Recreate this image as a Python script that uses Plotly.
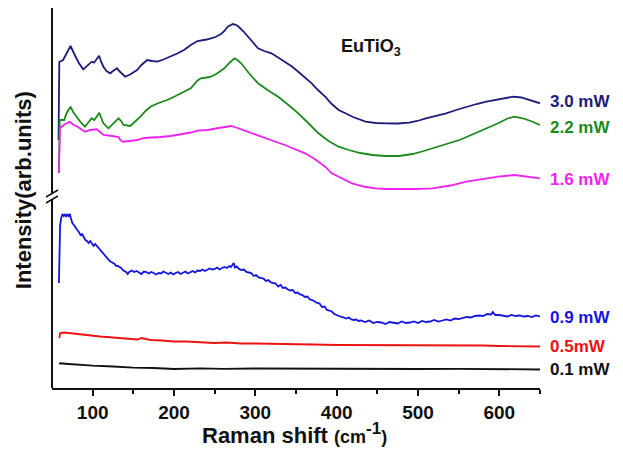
import plotly.graph_objects as go

# ---- data (Raman shift in cm^-1, intensity in arb. units) ----
x_30 = [58, 59, 63.6, 68, 72.8, 78, 83, 88.4, 93, 98.8, 101.7, 104, 107.9, 110.5, 113.2, 117, 121.5, 125,
        129.8, 134, 140, 146, 154.6, 160, 167, 173, 179.4, 187, 195.8, 204, 212.3, 220.6, 229, 233, 240,
        245.4, 251, 257.8, 262, 266, 269, 272.3, 275, 278.5, 285, 290.9, 297, 303.3, 311, 319.8, 328,
        336.3, 345, 352.8, 361, 369.3, 377, 385.8, 394, 402.4, 410.8, 420, 435.5, 448, 460.3, 475, 489.2,
        499, 509.8, 522, 534.6, 547, 559.3, 572, 584.1, 598.6, 608, 617, 627, 638, 650]
i_30 = [248, 326, 328, 335, 342, 333, 325, 318.7, 322, 326.3, 325.3, 328, 332.3, 326, 321.3, 317, 314.7, 317,
        319.7, 316, 311.3, 313.5, 318, 323, 328, 327, 326.3, 328.5, 331.3, 334.5, 338, 343, 347, 347.3, 348.5,
        349.7, 351, 354, 357, 361.3, 363, 364, 363.5, 362, 357, 351.3, 346, 339.7, 337, 334.7, 330.5,
        326.3, 321.5, 316.3, 311, 304.7, 298, 291.3, 284, 278, 274.7, 271, 266.3, 265, 264.7, 264.5, 265.3,
        267, 269.7, 272, 274.7, 278, 281.3, 284, 286.3, 288.5, 290.5, 291.3, 290.5, 288, 284.7]

x_22 = [58.5, 59.5, 65, 68, 72.8, 76, 80.2, 85, 90.5, 95, 98.8, 102, 105, 108.2, 110.5, 113.2, 119.4, 125,
        131.8, 135, 138, 146.3, 152, 158.7, 165, 171, 181, 191.7, 202, 212.3, 220.6, 229, 233, 240, 245.4,
        252, 261.9, 268, 274.4, 278, 282.6, 292, 303.3, 315, 328.1, 340, 352.8, 365, 377.6, 390, 402.4,
        414.8, 429, 443.7, 460, 476.7, 493.2, 505, 518, 535, 551, 564, 575.8, 588, 598.6, 610, 619, 630, 640, 650]
i_22 = [215, 268, 268, 275, 281.3, 276, 271.3, 266, 261.3, 266, 269.7, 268, 272, 275.3, 270, 264.7, 259.7, 264,
        269.7, 267, 263, 262, 266, 271.3, 277, 281.3, 285, 288, 292, 296.3, 299.7, 307.5, 309.7, 310.5, 311.3,
        314, 319.7, 325, 329.7, 328, 324.7, 315, 304.7, 298, 291.3, 283.5, 274.7, 265, 254.7, 247, 241.3,
        238, 235, 233, 232, 232, 234, 236.5, 239.7, 244, 248, 252.5, 256.3, 261, 264.7, 269.5, 271.3, 269.5, 266.5, 263]

x_16 = [58.5, 59.8, 61.7, 66, 71.9, 76.7, 82, 90.5, 97, 105, 109, 113.2, 120, 129.8, 132, 133.9, 137, 145,
        154.6, 163, 171, 183, 195.8, 204, 212.3, 220.6, 229, 241.3, 255, 264, 270.2, 278, 286.8, 299, 311.5,
        324, 336.3, 349, 361.1, 373, 385.8, 394, 406.5, 418.8, 433, 447.7, 462, 476.7, 497, 518, 540, 559.3,
        580, 598.6, 619, 635, 650]
i_16 = [215, 260, 261.3, 264, 266.3, 263, 261, 256.3, 258, 258.7, 256, 253, 252.5, 251.3, 251, 248, 246.3, 247,
        248, 250, 250.7, 251, 252, 253, 254, 255.5, 257.3, 258, 260, 261.5, 262, 260, 257.3, 253.5, 249.7,
        246.5, 243, 239, 234.7, 229, 221.3, 214.7, 209.7, 204.7, 201.5, 199.7, 199, 198.7, 199, 199.7, 202.5, 206.3,
        209, 211.3, 213, 211.5, 209.7]

x_09 = [58.5, 60, 61.5, 63, 64.5, 66, 67.5, 69, 70.5, 72, 73.5, 75, 77, 79, 81, 83, 85, 87, 89, 91, 93, 95,
        97, 99, 101, 103, 105, 107, 109, 111, 113, 115, 117, 119, 121, 123, 125, 127, 129, 131, 133, 135, 137,
        139, 141, 143, 145, 148, 151, 154, 157, 160, 163, 166, 169, 172, 175, 178, 181, 184, 187, 190, 193,
        196, 199, 202, 205, 208, 211, 214, 217, 220, 223, 226, 229, 232, 235, 238, 241, 244, 247, 250, 253,
        256, 259, 262, 265, 268, 270, 272, 273.5, 275, 277, 280, 283, 286, 289, 292, 295, 298, 301, 304, 307,
        310, 313, 316, 319, 322, 325, 328, 331, 334, 337, 340, 343, 346, 349, 352, 355, 358, 361, 364, 367,
        370, 373, 376, 379, 382, 385, 388, 391, 394, 397, 400, 403, 406, 409, 412, 415, 418, 421, 424, 427,
        430, 435, 440, 445, 450, 455, 460, 465, 470, 475, 480, 485, 490, 495, 500, 505, 510, 515, 520, 525,
        530, 535, 540, 545, 550, 555, 560, 565, 570, 575, 580, 585, 590, 592, 595, 600, 605, 610, 615, 620,
        625, 630, 635, 640, 645, 650]
i_09 = [105, 163, 171, 174, 172, 174, 171, 174, 172, 174, 169, 165, 163, 160, 158, 156, 153, 154, 151, 148, 147, 145,
        147, 144, 142, 144, 142, 140, 138, 137, 134, 133, 131, 128, 127, 126, 125, 124, 122, 122, 121, 120, 118,
        117, 116, 114, 116, 117.5, 116, 117, 115.5, 114, 116.5, 116, 114.5, 116, 115, 113.5, 115, 114.5, 116.5, 115, 114,
        115.5, 113.5, 115, 116, 114, 115, 116.5, 114.5, 116, 117, 115.5, 117.5, 117, 118.5, 117, 118, 119.5, 118.5, 119, 120.5,
        118.5, 120, 121, 120, 122, 121, 123, 125, 120.5, 121.5, 119, 118, 118.5, 116, 115.5, 115, 112, 113, 110.5, 110,
        109.5, 107, 108, 105.5, 105, 104.5, 101.5, 103, 100, 100.5, 98.5, 97.5, 98, 95, 95.5, 93.5, 93, 91, 91.5, 88.5,
        88, 86.5, 85, 84.5, 81, 81.5, 78, 77.5, 76.5, 74, 73, 71.5, 71, 70.5, 69.5, 70.5, 68.5, 68, 68.5, 67,
        67.5, 66, 67.5, 65, 66, 65.5, 64, 66, 65, 64.5, 66.5, 65, 65.5, 66.5, 65, 67, 66, 66.5, 68, 66.5,
        67.5, 68.5, 67.5, 69.5, 69, 70, 71, 70.5, 72, 72.5, 72, 74, 73.5, 76, 73, 73, 72.5, 71.5, 73, 72,
        72.5, 71.5, 72, 71, 72.5, 71.5]

x_05 = [59, 60, 65, 70, 78, 85, 95, 109, 125, 140, 155, 160, 171, 185, 200, 215, 233, 250, 265, 282, 300,
        320, 344, 370, 402, 430, 460, 490, 520, 545, 560, 580, 600, 625, 650]
i_05 = [50, 55, 55.5, 55, 54.5, 53.5, 53, 51.5, 50.5, 49.5, 48.5, 50, 48, 47.5, 46.5, 46.5, 45.5, 45, 45.5, 44.5, 44.5,
        44, 44, 43.5, 43, 43, 43, 42.5, 43, 42.5, 43, 42.5, 42, 42, 41.5]

x_01 = [59, 60, 70, 85, 100, 125, 150, 175, 200, 233, 260, 300, 350, 400, 450, 500, 550, 600, 650]
i_01 = [24, 24.7, 24, 23, 22.3, 21.5, 20.3, 20, 19, 19.7, 19.2, 19.5, 19.2, 19.5, 19.2, 19, 19.2, 18.7, 18.5]

labels = ["3.0 mW", "2.2 mW", "1.6 mW", "0.9 mW", "0.5mW", "0.1 mW"]
label_pos = [287, 261, 209, 71, 42, 19]
colors = ["#1c1c7c", "#1a8a1a", "#ee22ee", "#1515e0", "#ee1111", "#111111"]
xs = [x_30, x_22, x_16, x_09, x_05, x_01]
ys = [i_30, i_22, i_16, i_09, i_05, i_01]

FONT = "Liberation Sans, Arial, sans-serif"
PW = 488.0  # plot width in px (for break-mark geometry)

fig = go.Figure()
for x, y, c in zip(xs, ys, colors):
    fig.add_trace(go.Scatter(x=x, y=y, mode="lines", line=dict(color=c, width=1.8),
                             showlegend=False, hoverinfo="skip"))

ann = []
for t, p, c in zip(labels, label_pos, colors):
    ann.append(dict(text="<b>%s</b>" % t, x=1.016, xref="paper", y=p, yref="y",
                    xanchor="left", yanchor="middle", showarrow=False,
                    font=dict(family=FONT, size=17, color=c)))
ann.append(dict(text="<b>EuTiO<sub>3</sub></b>", x=0.654, y=0.897, xref="paper", yref="paper",
                xanchor="center", yanchor="middle",
                showarrow=False, font=dict(family=FONT, size=18, color="#111")))
ann.append(dict(text="<b>Intensity(arb.units)</b>", x=-0.059, y=0.521, xref="paper", yref="paper",
                xanchor="center", yanchor="middle",
                textangle=-90, showarrow=False, font=dict(family=FONT, size=22, color="#111")))
ann.append(dict(text="<b>Raman shift <span style='font-size:18px'>(cm</span><sup><span style='font-size:17px'>-1</span></sup><span style='font-size:18px'>)</span></b>",
                x=0.496, y=-0.121, xref="paper", yref="paper", xanchor="center", yanchor="middle",
                showarrow=False, font=dict(family=FONT, size=22, color="#111")))

shapes = [
    dict(type="line", xref="paper", yref="paper", x0=0, x1=0, y0=(388 - 193) / 380, y1=1.0,
         line=dict(color="#111", width=2)),
    dict(type="line", xref="paper", yref="paper", x0=0, x1=0, y0=0, y1=(388 - 200) / 380,
         line=dict(color="#111", width=2)),
    dict(type="line", xref="paper", yref="paper", x0=-6 / PW, x1=6 / PW,
         y0=(388 - 197) / 380, y1=(388 - 190) / 380, line=dict(color="#111", width=1.5)),
    dict(type="line", xref="paper", yref="paper", x0=-6 / PW, x1=6 / PW,
         y0=(388 - 203) / 380, y1=(388 - 196) / 380, line=dict(color="#111", width=1.5)),
]

# page body has an 8px default margin, so the figure is 8px smaller and shifted
fig.update_layout(
    width=615, height=451,
    margin=dict(l=44, r=83, t=0, b=71),
    paper_bgcolor="white", plot_bgcolor="white",
    annotations=ann, shapes=shapes,
    xaxis=dict(range=[50, 650], showline=True, linecolor="#111", linewidth=2,
               ticks="outside", ticklen=6, tickwidth=2, tickcolor="#111",
               tickvals=[100, 200, 300, 400, 500, 600],
               ticktext=["<b>%d</b>" % v for v in [100, 200, 300, 400, 500, 600]],
               minor=dict(tickvals=[150, 250, 350, 450, 550, 650], ticks="outside", ticklen=4,
                          tickwidth=2, tickcolor="#111"),
               showgrid=False, zeroline=False,
               tickfont=dict(family=FONT, size=19, color="#111")),
    yaxis=dict(range=[0, 380], showline=False, showticklabels=False, ticks="",
               showgrid=False, zeroline=False),
)

fig.write_html("out.html")
